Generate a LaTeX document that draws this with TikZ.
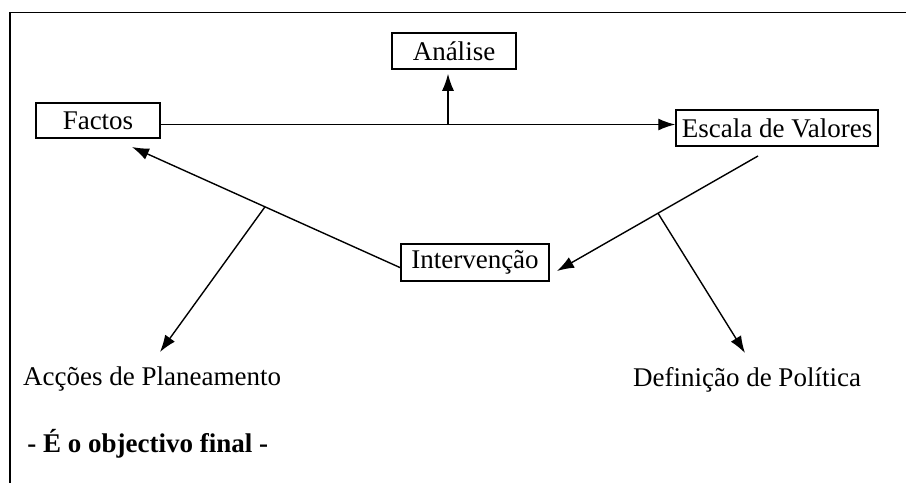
\documentclass[tikz,border=0pt]{standalone}
\usepackage{fontspec}
\setmainfont{Liberation Serif}
\usetikzlibrary{arrows.meta,calc}
\begin{document}
\begin{tikzpicture}[x=0.5pt,y=-0.5pt,
  font=\fontsize{13.5}{16}\selectfont,
  box/.style={draw,line width=0.75pt,inner sep=0pt,align=center},
  link/.style={line width=0.7pt},
  arr/.style={link,-{Latex[length=8.5pt,width=6pt]}},
  label/.style={inner sep=0pt}]
\useasboundingbox (0,0) rectangle (906,483);
% frame (top and left edges)
\draw[line width=0.75pt] (906,12.7) -- (10,12.7) -- (10,483);

% boxed nodes
\node[box,minimum width=62pt,minimum height=17.5pt] (factos) at (98,120.5) {Factos};
\node[box,minimum width=62pt,minimum height=18pt] (analise) at (454,51) {Análise};
\node[box,minimum width=101pt,minimum height=18pt] (escala) at (777,128) {Escala de Valores};
\node[box,minimum width=74pt,minimum height=18.5pt] (interv) at (475,262.5) {Intervenção};

% free labels
\node[label,anchor=base west] (accoes) at (22.7,385) {Acções de Planeamento};
\node[label,anchor=base] (definicao) at (747,386) {Definição de Política};
\node[label,anchor=base west] (objectivo) at (27,452) {\bfseries - É o objectivo final -};

% connector end points
\coordinate (hline) at (0,124.5);
\coordinate (junA) at (448,124.5);
\coordinate (intL) at (401,268);
\coordinate (factTip) at (132,147);
\coordinate (escB) at (758,156);
\coordinate (intTip) at (557,271);
\coordinate (accTip) at (160,352);
\coordinate (defTip) at (745,353);

% Factos -> Escala de Valores, with branch to Análise
\draw[arr] (factos.east |- hline) -- (escala.west |- hline);
\draw[arr,shorten >=2pt] (junA) -- (junA |- analise.south);

% Intervenção -> Factos, with branch to Acções de Planeamento
\draw[arr] (intL) -- (factTip);
\draw[arr] ($(intL)!0.5056!(factTip)$) -- (accTip);

% Escala de Valores -> Intervenção, with branch to Definição de Política
\draw[arr] (escB) -- (intTip);
\draw[arr] ($(escB)!0.4975!(intTip)$) -- (defTip);
\end{tikzpicture}
\end{document}
